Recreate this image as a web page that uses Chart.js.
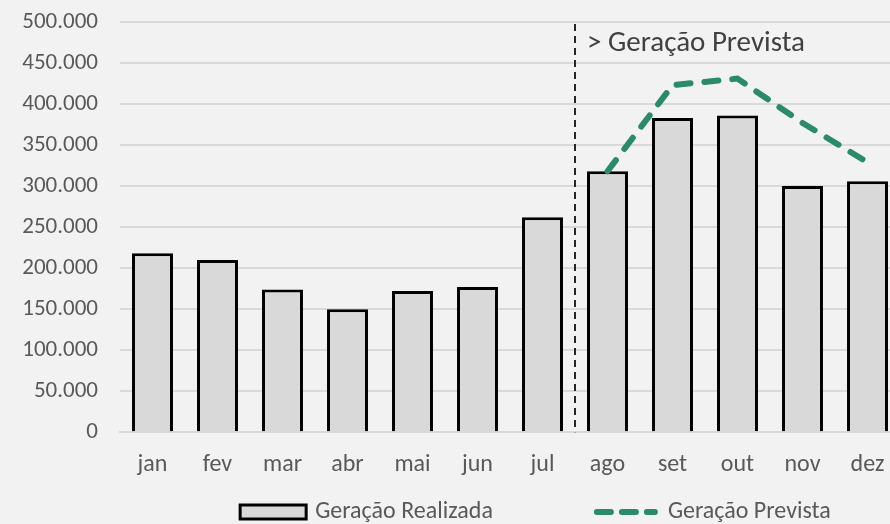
<!DOCTYPE html>
<html>
<head>
<meta charset="utf-8">
<script src="https://cdn.jsdelivr.net/npm/chart.js@4.4.1/dist/chart.umd.min.js"></script>
<style>
  html, body { margin: 0; padding: 0; background: #f2f2f2; overflow: hidden; width: 890px; height: 524px; }
  #wrap { position: absolute; left: 0; top: 0; width: 1071px; height: 524px; }
</style>
</head>
<body>
<div id="wrap"><canvas id="c" width="1071" height="524"></canvas></div>
<script>
const months = ['jan','fev','mar','abr','mai','jun','jul','ago','set','out','nov','dez'];
const realizada = [218000, 210000, 174000, 150000, 172000, 177000, 262000, 318000, 383000, 386000, 300000, 306000];
const prevista = [null, null, null, null, null, null, null, 318000, 423000, 431000, 377000, 329000];
const seriesNames = ['Geração Realizada', 'Geração Prevista'];
const annotationText = '> Geração Prevista';
const forecastStartIndex = 7;

const FONT = 'Carlito, Calibri, Lato, sans-serif';

function fmt(v) {
  return String(v).replace(/\B(?=(\d{3})+(?!\d))/g, '.');
}

const bgPlugin = {
  id: 'bg',
  beforeDraw(chart) {
    const ctx = chart.ctx;
    ctx.save();
    ctx.fillStyle = '#f2f2f2';
    ctx.fillRect(0, 0, chart.width, chart.height);
    ctx.restore();
  }
};

const dividerPlugin = {
  id: 'divider',
  afterDatasetsDraw(chart) {
    const xs = chart.scales.x, ys = chart.scales.y;
    const x = Math.round((xs.getPixelForValue(forecastStartIndex - 1) + xs.getPixelForValue(forecastStartIndex)) / 2);
    const ctx = chart.ctx;
    ctx.save();
    ctx.strokeStyle = '#262626';
    ctx.lineWidth = 2;
    ctx.setLineDash([7, 5]);
    ctx.beginPath();
    ctx.moveTo(x, ys.getPixelForValue(ys.max) + 2);
    ctx.lineTo(x, ys.getPixelForValue(0));
    ctx.stroke();
    ctx.setLineDash([]);
    ctx.fillStyle = '#404040';
    ctx.font = '29px ' + FONT;
    ctx.textAlign = 'left';
    ctx.textBaseline = 'middle';
    ctx.fillText(annotationText, x + 12, ys.getPixelForValue(ys.max) + 22);
    ctx.restore();
  }
};

const legendPlugin = {
  id: 'customLegend',
  afterDraw(chart) {
    const ctx = chart.ctx;
    const ds = chart.data.datasets;
    const boxW = 66, gap = 9, itemGap = 100;
    ctx.save();
    ctx.font = '24px ' + FONT;
    const widths = ds.map(d => boxW + gap + ctx.measureText(d.label).width);
    const total = widths.reduce((a, b) => a + b, 0) + itemGap * (ds.length - 1);
    let x = chart.width / 2 - total / 2;
    const y = chart.height - 12;
    ds.forEach((d, i) => {
      if (d.type === 'line') {
        ctx.strokeStyle = d.borderColor;
        ctx.lineWidth = d.borderWidth;
        ctx.lineCap = 'round';
        ctx.setLineDash([14, 11]);
        ctx.beginPath();
        ctx.moveTo(x + 4, y);
        ctx.lineTo(x + boxW - 4, y);
        ctx.stroke();
        ctx.setLineDash([]);
      } else {
        ctx.fillStyle = d.backgroundColor;
        ctx.strokeStyle = d.borderColor;
        ctx.lineWidth = 3;
        ctx.fillRect(x, y - 7, boxW, 14);
        ctx.strokeRect(x, y - 7, boxW, 14);
      }
      ctx.fillStyle = '#595959';
      ctx.textAlign = 'left';
      ctx.textBaseline = 'middle';
      ctx.fillText(d.label, x + boxW + gap, y);
      x += widths[i] + itemGap;
    });
    ctx.restore();
  }
};

new Chart(document.getElementById('c'), {
  type: 'bar',
  data: {
    labels: months,
    datasets: [
      {
        type: 'bar',
        label: seriesNames[0],
        data: realizada,
        backgroundColor: '#d9d9d9',
        borderColor: '#000000',
        borderWidth: 3,
        borderSkipped: 'start',
        barPercentage: 0.63,
        categoryPercentage: 1.0,
        order: 2
      },
      {
        type: 'line',
        label: seriesNames[1],
        data: prevista,
        borderColor: '#2a8a6a',
        backgroundColor: '#2a8a6a',
        borderWidth: 6,
        borderDash: [14, 14],
        borderCapStyle: 'round',
        borderJoinStyle: 'round',
        pointRadius: 0,
        tension: 0,
        fill: false,
        spanGaps: false,
        order: 1
      }
    ]
  },
  options: {
    responsive: false,
    animation: false,
    devicePixelRatio: 1,
    layout: { padding: { top: 22, right: 171, bottom: 27, left: 0 } },
    plugins: {
      legend: { display: false },
      tooltip: { enabled: false }
    },
    scales: {
      x: {
        grid: { display: false, drawTicks: false },
        border: { display: true, color: '#d9d9d9', width: 2 },
        ticks: { color: '#595959', font: { family: FONT, size: 24 }, padding: 18, maxRotation: 0 }
      },
      y: {
        min: 0,
        max: 500000,
        afterFit(scale) { scale.width = 120; scale.paddingTop = 0; scale.paddingBottom = 0; },
        grid: { color: '#d9d9d9', lineWidth: 2, drawTicks: false },
        border: { display: false },
        ticks: {
          stepSize: 50000,
          color: '#595959',
          font: { family: FONT, size: 23 },
          padding: 22,
          callback: v => fmt(v)
        }
      }
    }
  },
  plugins: [bgPlugin, dividerPlugin, legendPlugin]
});
</script>
</body>
</html>
